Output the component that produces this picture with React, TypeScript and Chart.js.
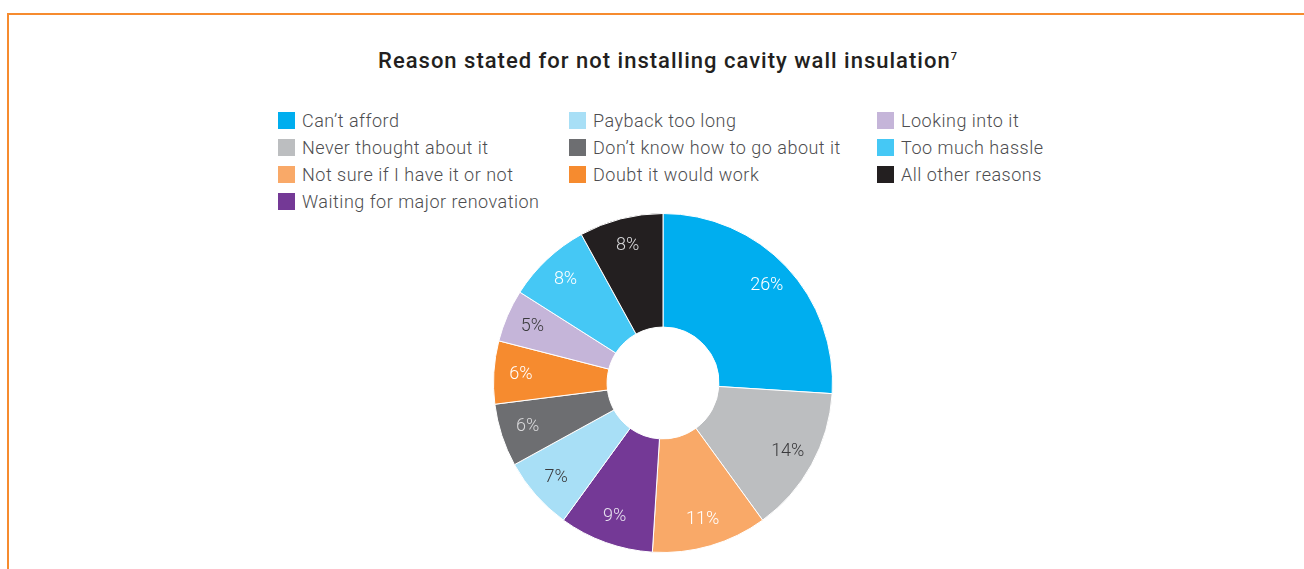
import React, { useEffect, useRef } from "react";
import { Chart, registerables } from "chart.js";

Chart.register(...registerables);

const categories = [
  "Can\u2019t afford",
  "Never thought about it",
  "Not sure if I have it or not",
  "Waiting for major renovation",
  "Payback too long",
  "Don\u2019t know how to go about it",
  "Doubt it would work",
  "Looking into it",
  "Too much hassle",
  "All other reasons",
];
const values = [26, 14, 11, 9, 7, 6, 6, 5, 8, 8];
const colors = [
  "#00AEEF",
  "#BCBEC0",
  "#F9A968",
  "#743996",
  "#A8DFF6",
  "#6D6E71",
  "#F68B2F",
  "#C5B5D9",
  "#45C8F5",
  "#231F20",
];
const labelColors = [
  "#FFFFFF",
  "#3A3A3C",
  "#FFFFFF",
  "#E6E0EE",
  "#3A3A3C",
  "#D8D8DA",
  "#FFFFFF",
  "#3A3A3C",
  "#FFFFFF",
  "#D8D8DA",
];
const title = "Reason stated for not installing cavity wall insulation";
const titleSup = "7";
const legendColumns = [
  [0, 1, 2, 3],
  [4, 5, 6],
  [7, 8, 9],
];

const FONT = "Roboto, 'Noto Sans', sans-serif";

const labelPlugin = {
  id: "sliceLabels",
  afterDatasetsDraw(chart: any) {
    const ctx = chart.ctx;
    const meta = chart.getDatasetMeta(0);
    ctx.save();
    ctx.font = `300 18px ${FONT}`;
    ctx.textAlign = "center";
    ctx.textBaseline = "middle";
    meta.data.forEach((arc: any, i: number) => {
      const p = arc.getProps(["x", "y", "startAngle", "endAngle", "outerRadius"], true);
      const mid = (p.startAngle + p.endAngle) / 2;
      const r = p.outerRadius * 0.84;
      ctx.fillStyle = labelColors[i];
      ctx.fillText(values[i] + "%", p.x + Math.cos(mid) * r, p.y + Math.sin(mid) * r);
    });
    ctx.restore();
  },
};

export default function App() {
  const ref = useRef<HTMLCanvasElement | null>(null);
  useEffect(() => {
    if (!ref.current) return;
    const chart = new Chart(ref.current, {
      type: "doughnut",
      data: {
        labels: categories,
        datasets: [
          {
            data: values,
            backgroundColor: colors,
            borderColor: "#FFFFFF",
            borderWidth: 1,
          },
        ],
      },
      options: {
        animation: false,
        responsive: false,
        maintainAspectRatio: false,
        cutout: "33%",
        layout: { padding: 0 },
        plugins: {
          legend: { display: false },
          tooltip: { enabled: false },
          title: { display: false },
        },
      },
      plugins: [labelPlugin],
    });
    return () => chart.destroy();
  }, []);

  return (
    <div
      style={{
        position: "fixed",
        left: 0,
        top: 0,
        width: 1304,
        height: 569,
        overflow: "hidden",
        background: "#FFFFFF",
        fontFamily: FONT,
      }}
    >
      <div
        style={{
          position: "absolute",
          left: 7,
          top: 13,
          width: 1400,
          height: 700,
          borderTop: "2px solid #F68B2F",
          borderLeft: "2px solid #F68B2F",
        }}
      />
      <div
        style={{
          position: "absolute",
          left: 0,
          width: 1336,
          top: 47,
          textAlign: "center",
          fontSize: 22,
          fontWeight: 500,
          letterSpacing: "1px",
          color: "#231F20",
          lineHeight: "28px",
        }}
      >
        {title}
        <sup style={{ fontSize: 11, verticalAlign: "top", position: "relative", top: -4 }}>{titleSup}</sup>
      </div>
      {legendColumns.map((col, ci) => (
        <div
          key={ci}
          style={{
            position: "absolute",
            left: [278, 569, 877][ci],
            top: 107,
          }}
        >
          {col.map((idx) => (
            <div
              key={idx}
              style={{ display: "flex", alignItems: "center", height: 27, whiteSpace: "nowrap" }}
            >
              <span
                style={{
                  display: "inline-block",
                  width: 17,
                  height: 17,
                  background: colors[idx],
                  marginRight: 7,
                }}
              />
              <span style={{ fontSize: 18, fontWeight: 300, letterSpacing: "0.5px", color: "#4D4D4F" }}>
                {categories[idx]}
              </span>
            </div>
          ))}
        </div>
      ))}
      <canvas
        ref={ref}
        width={340}
        height={340}
        style={{ position: "absolute", left: 493, top: 213, width: 340, height: 340 }}
      />
    </div>
  );
}
